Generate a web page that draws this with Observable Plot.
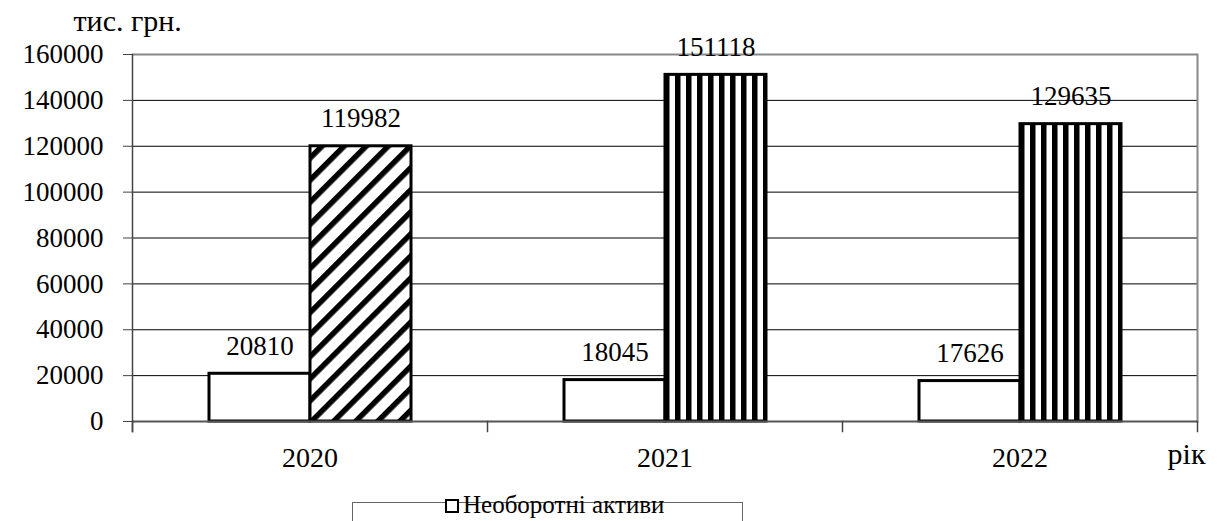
<!DOCTYPE html>
<html>
<head>
<meta charset="utf-8">
<script src="https://cdn.jsdelivr.net/npm/d3@7"></script>
<script src="https://cdn.jsdelivr.net/npm/@observablehq/plot@0.6"></script>
<style>
  html, body { margin: 0; padding: 0; background: white; }
  #wrap { position: relative; width: 1222px; height: 521px; overflow: hidden;
    font-family: "Liberation Serif", "Times New Roman", serif; }
  #legend {
    position: absolute; left: 352px; top: 502px; width: 391px; height: 40px;
    border: 1px solid #666; box-sizing: border-box; color: black;
  }
  #legend .item {
    position: absolute; left: 92px; top: -6px; white-space: nowrap;
    font-size: 25px; line-height: 16px;
  }
  #legend .key {
    display: inline-block; width: 10px; height: 10px; border: 2px solid black;
    background: white; vertical-align: 0px; margin-right: 4px;
  }
</style>
</head>
<body>
<div id="wrap">
  <div id="chart"></div>
  <div id="legend"><span class="item"><span class="key"></span>Необоротні активи</span></div>
</div>
<script>
// Balance sheet assets by year, thousand UAH
const years = ["2020", "2021", "2022"];
const seriesNames = ["Необоротні активи", "Оборотні активи"];
const nonCurrentAssets = [20810, 18045, 17626];
const currentAssets = [119982, 151118, 129635];
const yTicks = [0, 20000, 40000, 60000, 80000, 100000, 120000, 140000, 160000];

const rows = years.flatMap((year, i) => [
  {year, series: seriesNames[0], value: nonCurrentAssets[i]},
  {year, series: seriesNames[1], value: currentAssets[i]}
]);

const W = 1222, H = 502;
const mTop = 54, mBottom = 81, mLeft = 131, mRight = 25;
const plotH = H - mTop - mBottom;
const serif = "'Liberation Serif', 'Times New Roman', serif";

// non-current assets are plain white; current assets are hatched
const barFill = d => d.series === seriesNames[0] ? "white"
  : (d.year === years[0] ? "url(#hatch-diag)" : "url(#hatch-vert)");

const chart = Plot.plot({
  width: W,
  height: H,
  marginTop: mTop,
  marginBottom: mBottom,
  marginLeft: mLeft,
  marginRight: mRight,
  style: {fontFamily: serif, fontSize: "28px", color: "black", background: "white", overflow: "visible"},
  fx: {domain: years, padding: 0, label: null},
  x: {domain: seriesNames, paddingInner: 0, paddingOuter: 0.743, axis: null},
  y: {domain: [0, 160000], label: null},
  color: {type: "identity"},
  marks: [
    Plot.ruleY(yTicks.slice(1, -1), {stroke: "black", strokeWidth: 1}),
    Plot.ruleY([160000], {stroke: "#888", strokeWidth: 2}),
    Plot.frame({anchor: "right", fx: () => years[2], stroke: "#888", strokeWidth: 2}),
    Plot.barY(rows, {
      fx: "year", x: "series", y: "value",
      fill: barFill, stroke: "black", strokeWidth: 3
    }),
    Plot.ruleY([0], {stroke: "#555", strokeWidth: 2}),
    Plot.frame({anchor: "left", fx: () => years[0], insetBottom: -10, stroke: "#444", strokeWidth: 1.5}),
    Plot.frame({anchor: "left", insetTop: plotH, insetBottom: -10, stroke: "#444", strokeWidth: 1.5}),
    Plot.frame({anchor: "right", fx: () => years[2], insetTop: plotH, insetBottom: -10, stroke: "#444", strokeWidth: 1.5}),
    Plot.axisY({ticks: yTicks, tickFormat: d => String(d), tickSize: 9, tickPadding: 20, fontSize: 27, label: null, stroke: "#444"}),
    Plot.axisFx({anchor: "bottom", tickSize: 0, tickPadding: 26, fontSize: 28, label: null}),
    Plot.text(rows, {
      fx: "year", x: "series", y: "value", text: d => String(d.value),
      lineAnchor: "bottom", dy: -19, fontSize: 27, fill: "black"
    }),
    Plot.text(["тис. грн."], {
      fx: () => years[0], frameAnchor: "top-left", textAnchor: "start",
      lineAnchor: "bottom", dx: -59, dy: -24, fontSize: 30, fill: "black"
    }),
    Plot.text(["рік"], {
      fx: () => years[2], frameAnchor: "bottom-right", textAnchor: "middle",
      lineAnchor: "bottom", dx: -11, dy: 42, fontSize: 30, fill: "black"
    })
  ]
});

// hatch patterns for the current-assets bars
const defs = d3.select(chart).insert("defs", ":first-child");
const diag = defs.append("pattern")
  .attr("id", "hatch-diag").attr("patternUnits", "userSpaceOnUse")
  .attr("width", 15.6).attr("height", 15.6)
  .attr("patternTransform", "rotate(45)");
diag.append("rect").attr("width", 15.6).attr("height", 15.6).attr("fill", "white");
diag.append("rect").attr("width", 5.5).attr("height", 15.6).attr("fill", "black");
const vert = defs.append("pattern")
  .attr("id", "hatch-vert").attr("patternUnits", "userSpaceOnUse")
  .attr("width", 11).attr("height", 10);
vert.append("rect").attr("width", 11).attr("height", 10).attr("fill", "white");
vert.append("rect").attr("width", 5.5).attr("height", 10).attr("fill", "black");

document.getElementById("chart").appendChild(chart);
</script>
</body>
</html>
